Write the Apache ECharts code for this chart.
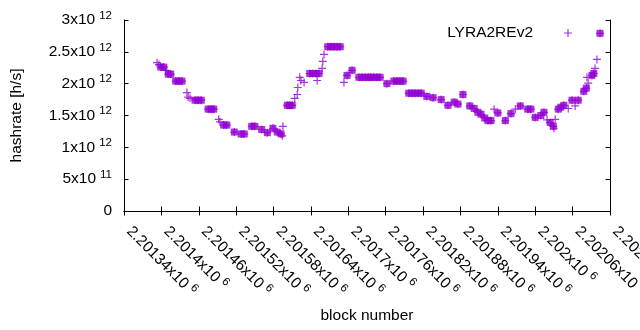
<!DOCTYPE html>
<html>
<head>
<meta charset="utf-8">
<script src="https://cdn.jsdelivr.net/npm/echarts@6/dist/echarts.min.js"></script>
<style>
  html, body { margin: 0; padding: 0; background: #fff; }
  #chart { width: 640px; height: 330px; }
</style>
</head>
<body>
<div id="chart"></div>
<script>
// per-block hashrate estimates (plotted as +), hashrate in 10^12 h/s
const blocks = [2201393, 2201396, 2201399, 2201404, 2201407, 2201411, 2201415, 2201423, 2201428, 2201433,
  2201441, 2201443, 2201446, 2201454, 2201459, 2201464, 2201475, 2201480, 2201484, 2201492,
  2201494, 2201500, 2201505, 2201517, 2201528, 2201533, 2201545, 2201550, 2201561, 2201570,
  2201579, 2201586, 2201592, 2201594, 2201595, 2201602, 2201606, 2201610, 2201614, 2201618,
  2201619, 2201622, 2201624, 2201629, 2201638, 2201643, 2201648, 2201650, 2201653, 2201658,
  2201659, 2201661, 2201667, 2201672, 2201677, 2201682, 2201687, 2201693, 2201698, 2201706,
  2201717, 2201722, 2201727, 2201732, 2201736, 2201741, 2201746, 2201751, 2201762, 2201773,
  2201778, 2201783, 2201788, 2201797, 2201802, 2201807, 2201812, 2201817, 2201826, 2201836,
  2201849, 2201860, 2201870, 2201876, 2201884, 2201895, 2201902, 2201908, 2201913, 2201919,
  2201924, 2201929, 2201934, 2201940, 2201952, 2201961, 2201968, 2201976, 2201988, 2201993,
  2202000, 2202009, 2202014, 2202019, 2202024, 2202029, 2202030, 2202032, 2202037, 2202041,
  2202046, 2202053, 2202059, 2202064, 2202069, 2202078, 2202082, 2202083, 2202085, 2202091,
  2202094, 2202096, 2202099, 2202104];
const hashrate = [2.33, 2.30, 2.26, 2.26, 2.21, 2.15, 2.15, 2.04, 2.04, 2.04,
  1.86, 1.79, 1.77, 1.74, 1.74, 1.74, 1.60, 1.60, 1.60, 1.44,
  1.40, 1.35, 1.35, 1.24, 1.21, 1.21, 1.33, 1.33, 1.28, 1.23,
  1.30, 1.24, 1.21, 1.18, 1.33, 1.66, 1.66, 1.66, 1.77, 1.83,
  1.94, 2.10, 2.05, 2.02, 2.16, 2.16, 2.16, 2.05, 2.16, 2.24,
  2.35, 2.46, 2.58, 2.58, 2.58, 2.58, 2.58, 2.02, 2.13, 2.21,
  2.10, 2.10, 2.10, 2.10, 2.10, 2.10, 2.10, 2.10, 2.00, 2.04,
  2.04, 2.04, 2.04, 1.85, 1.85, 1.85, 1.85, 1.85, 1.80, 1.78,
  1.75, 1.66, 1.71, 1.68, 1.83, 1.65, 1.61, 1.55, 1.52, 1.46,
  1.42, 1.42, 1.60, 1.54, 1.42, 1.53, 1.60, 1.65, 1.60, 1.60,
  1.47, 1.50, 1.55, 1.43, 1.39, 1.33, 1.30, 1.44, 1.60, 1.63,
  1.66, 1.61, 1.74, 1.65, 1.74, 1.88, 1.93, 2.10, 2.01, 2.13,
  2.16, 2.24, 2.38, 2.79];

// second set (filled squares), same units
const sqBlocks = [2201399, 2201404, 2201411, 2201415, 2201423, 2201428, 2201433, 2201454, 2201459, 2201464,
  2201475, 2201480, 2201484, 2201500, 2201505, 2201517, 2201528, 2201533, 2201545, 2201550,
  2201561, 2201570, 2201579, 2201586, 2201592, 2201602, 2201606, 2201610, 2201638, 2201643,
  2201648, 2201653, 2201667, 2201672, 2201677, 2201682, 2201687, 2201698, 2201706, 2201717,
  2201722, 2201727, 2201732, 2201736, 2201741, 2201746, 2201751, 2201762, 2201773, 2201778,
  2201783, 2201788, 2201797, 2201802, 2201807, 2201812, 2201817, 2201826, 2201836, 2201849,
  2201860, 2201870, 2201876, 2201884, 2201895, 2201902, 2201908, 2201913, 2201919, 2201924,
  2201929, 2201940, 2201952, 2201961, 2201976, 2201988, 2201993, 2202000, 2202009, 2202014,
  2202024, 2202029, 2202037, 2202041, 2202046, 2202059, 2202069, 2202078, 2202082, 2202091,
  2202094, 2202104];
const sqHashrate = [2.26, 2.26, 2.15, 2.15, 2.04, 2.04, 2.04, 1.74, 1.74, 1.74,
  1.60, 1.60, 1.60, 1.35, 1.35, 1.24, 1.21, 1.21, 1.33, 1.33,
  1.28, 1.23, 1.30, 1.24, 1.21, 1.66, 1.66, 1.66, 2.16, 2.16,
  2.16, 2.16, 2.58, 2.58, 2.58, 2.58, 2.58, 2.13, 2.21, 2.10,
  2.10, 2.10, 2.10, 2.10, 2.10, 2.10, 2.10, 2.00, 2.04, 2.04,
  2.04, 2.04, 1.85, 1.85, 1.85, 1.85, 1.85, 1.80, 1.78, 1.75,
  1.66, 1.71, 1.68, 1.83, 1.65, 1.61, 1.55, 1.52, 1.46, 1.42,
  1.42, 1.54, 1.42, 1.53, 1.65, 1.60, 1.60, 1.47, 1.50, 1.55,
  1.39, 1.33, 1.60, 1.63, 1.66, 1.74, 1.74, 1.88, 1.93, 2.13,
  2.16, 2.79];

const xMin = 2201340, xMax = 2202120, xStep = 60;
const yMax = 3e12, yStep = 5e11;

const font = 'Liberation Sans';
const color = '#9400D3';
const plusPath = 'path://M3.4,0H4.6V3.4H8V4.6H4.6V8H3.4V4.6H0V3.4H3.4Z';

// gnuplot style "2.5x10^12"
function sci(v) {
    if (v === 0) return '{b|0}';
    const e = Math.floor(Math.log10(Math.abs(v)) + 1e-9);
    const m = parseFloat((v / Math.pow(10, e)).toFixed(6));
    return '{b|' + m + 'x10}{s|' + e + '}';
}
const rich = {
    b: { fontSize: 15.5, fontFamily: font, color: '#000' },
    s: { fontSize: 11.5, fontFamily: font, color: '#000', padding: [0, 0, 9, 4] }
};

const chart = echarts.init(document.getElementById('chart'), null, { renderer: 'canvas' });

const tick = { show: true, inside: true, length: 4.5, lineStyle: { color: '#000', width: 1 } };
const line = { show: true, lineStyle: { color: '#000', width: 1 } };

chart.setOption({
    animation: false,
    backgroundColor: '#fff',
    grid: { left: 124, right: 30, top: 20, bottom: 119, containLabel: false, outerBoundsMode: 'none' },
    legend: {
        right: 68,
        top: 25,
        padding: 0,
        align: 'right',
        itemWidth: 8,
        itemHeight: 8,
        data: [{ name: 'LYRA2REv2', icon: plusPath, itemStyle: { color: color } }],
        textStyle: { fontSize: 15.5, fontFamily: font, color: '#000', padding: [0, 26, 0, 0] }
    },
    xAxis: [
        {
            type: 'value', min: xMin, max: xMax, interval: xStep,
            name: 'block number', nameLocation: 'middle', nameGap: 97,
            nameTextStyle: { fontSize: 15.5, fontFamily: font, color: '#000' },
            axisLine: line, axisTick: tick, splitLine: { show: false },
            axisLabel: { rotate: -45, margin: 13, padding: [0, 0, 0, 7], formatter: sci, rich: rich, hideOverlap: false }
        },
        {
            type: 'value', position: 'top', min: xMin, max: xMax, interval: xStep,
            axisLine: line, axisTick: tick, axisLabel: { show: false }, splitLine: { show: false }
        }
    ],
    yAxis: [
        {
            type: 'value', min: 0, max: yMax, interval: yStep,
            name: 'hashrate [h/s]', nameLocation: 'middle', nameGap: 99,
            nameTextStyle: { fontSize: 15.5, fontFamily: font, color: '#000' },
            axisLine: line, axisTick: tick, splitLine: { show: false },
            axisLabel: { margin: 12, formatter: sci, rich: rich }
        },
        {
            type: 'value', position: 'right', min: 0, max: yMax, interval: yStep,
            axisLine: line, axisTick: tick, axisLabel: { show: false }, splitLine: { show: false }
        }
    ],
    series: [
        {
            name: 'LYRA2REv2',
            type: 'scatter',
            symbol: plusPath,
            symbolSize: 8,
            itemStyle: { color: color },
            data: blocks.map((b, i) => [b, hashrate[i] * 1e12])
        },
        {
            name: 'avg',
            type: 'scatter',
            symbol: 'rect',
            symbolSize: 7,
            itemStyle: { color: color },
            data: sqBlocks.map((b, i) => [b, sqHashrate[i] * 1e12])
        }
    ]
});
</script>
</body>
</html>
